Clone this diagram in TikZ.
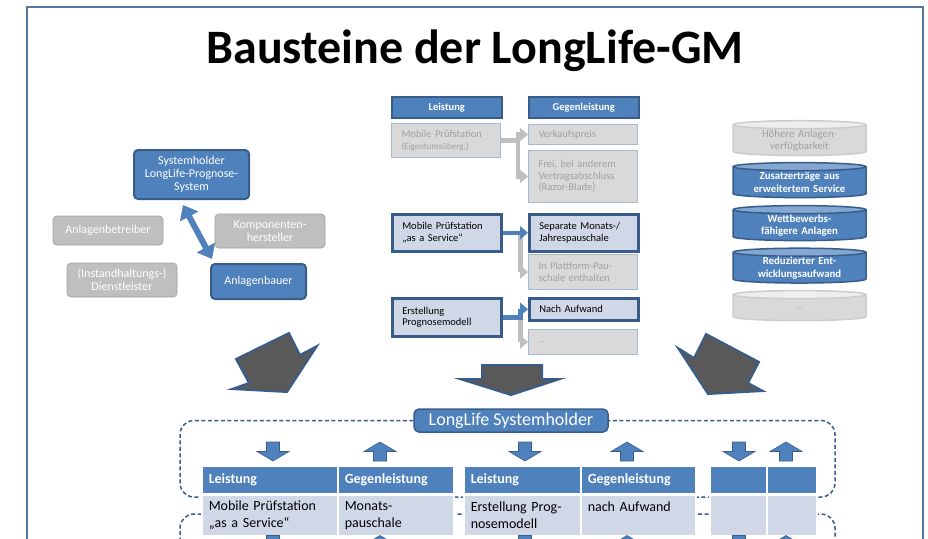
\documentclass[tikz,border=0pt]{standalone}
\usepackage{fontspec}
\setmainfont{Carlito}
\usetikzlibrary{shapes.geometric, positioning, arrows.meta}

\definecolor{llblue}{HTML}{4F81BD}
\definecolor{lldark}{HTML}{385D8A}
\definecolor{lllight}{HTML}{D0D8E8}
\definecolor{llgray}{HTML}{BFBFBF}
\definecolor{llpale}{HTML}{D9D9D9}
\definecolor{lltext}{HTML}{A0A0A0}
\definecolor{llrim}{HTML}{A7B9CF}
\definecolor{llarrow}{HTML}{595959}

\tikzset{
  downarr/.pic={\path[fill=llblue, draw=lldark, line width=0.6pt]
    (-6.5,-9.5) -- (6.5,-9.5) -- (6.5,0) -- (16,0) -- (0,9.5) -- (-16,0) -- (-6.5,0) -- cycle;},
  uparr/.pic={\path[fill=llblue, draw=lldark, line width=0.6pt]
    (-6.5,9.5) -- (6.5,9.5) -- (6.5,0) -- (16,0) -- (0,-9.5) -- (-16,0) -- (-6.5,0) -- cycle;}
}

\begin{document}
\begin{tikzpicture}[x=1pt, y=-1pt,
    role/.style={rounded corners=4pt, align=center, inner sep=2pt,
      font=\fontsize{12}{12.8}\selectfont},
    roleon/.style={role, fill=llblue, draw=lldark, line width=2pt, text=white},
    roleoff/.style={role, fill=llgray, draw=llgray!85!black, line width=0.8pt, text=white},
    colhead/.style={anchor=north west, fill=llblue, draw=lldark, line width=1.5pt,
      text=white, minimum width=110pt, minimum height=21pt, inner sep=0pt,
      font=\fontsize{10.5}{12}\selectfont\bfseries},
    pick/.style={anchor=north west, fill=lllight, draw=lldark, line width=2.5pt,
      align=left, text width=89pt, inner xsep=10pt, inner ysep=1pt,
      font=\fontsize{10.5}{11.5}\selectfont},
    nopick/.style={anchor=north west, fill=llpale, draw=llrim, line width=1pt,
      text=lltext, align=left, text width=89pt, inner xsep=10pt, inner ysep=1pt,
      font=\fontsize{10.5}{11.5}\selectfont},
    grayway/.style={draw=llgray, line width=4.5pt, -{Triangle[length=8pt, width=13pt]}},
    blueway/.style={draw=llblue, line width=4.5pt, -{Triangle[length=8pt, width=13pt]}},
    disk/.style={cylinder, shape border rotate=90, aspect=0.07, minimum width=133pt,
      text width=115pt, cylinder uses custom fill, align=center, line width=1.5pt,
      inner sep=0pt},
    diskon/.style={disk, draw=lldark, cylinder body fill=llblue,
      cylinder end fill=llblue!70!white, text=white,
      font=\fontsize{10.8}{12.6}\selectfont\bfseries},
    diskoff/.style={disk, draw=llgray!80, cylinder body fill=llpale,
      cylinder end fill=llpale!45!white, text=lltext,
      font=\fontsize{10.8}{12.6}\selectfont},
    bigarrow/.style={fill=llarrow, draw=lldark, line width=2pt, line join=miter},
    sysbar/.style={fill=llblue, draw=lldark, line width=1.5pt, rounded corners=5pt,
      text=white, minimum width=194pt, minimum height=23pt, inner sep=0pt,
      font=\fontsize{18}{20}\selectfont},
    dashframe/.style={draw=lldark, line width=1.5pt, dash pattern=on 4pt off 2.5pt,
      rounded corners=14pt},
    cellhead/.style={anchor=north west, fill=llblue, draw=white, line width=1.5pt,
      text=white, minimum height=28pt, inner xsep=7pt, inner ysep=0pt, align=left,
      font=\fontsize{14}{17}\selectfont\bfseries},
    cellbody/.style={anchor=north west, fill=lllight, draw=white, line width=1.5pt,
      minimum height=41pt, inner xsep=7pt, inner ysep=0pt, align=left,
      font=\fontsize{14}{17}\selectfont}]

  \fill[white] (0,0) rectangle (928,538);
  \useasboundingbox (0,0) rectangle (928,538);
  \draw[lldark!85, line width=2pt] (27,7) rectangle (923,570);

  \node[anchor=base, font=\fontsize{48}{56}\selectfont\bfseries] (title) at (475,63)
    {Bausteine der LongLife-GM};

  % Rollen
  \node[roleon, minimum width=115pt, minimum height=49pt] (sys) at (191.5,174.5)
    {Systemholder\\LongLife-Prognose-\\System};
  \node[roleoff, minimum width=110pt, minimum height=29pt] (betr) at (108,230.5)
    {Anlagenbetreiber};
  \node[roleoff, minimum width=110pt, minimum height=34pt] (komp) at (270,231)
    {Komponenten-\\hersteller};
  \node[roleoff, minimum width=110pt, minimum height=34pt] (dienst) at (122,280)
    {(Instandhaltungs-)\\Dienstleister};
  \node[roleon, minimum width=95pt, minimum height=35pt] (bauer) at (258.5,281.5)
    {Anlagenbauer};
  \draw[draw=llblue, line width=6pt,
    {Triangle[length=13pt, width=20pt]}-{Triangle[length=13pt, width=20pt]}]
    ([xshift=-8.5pt, yshift=-5pt]sys.south) -- ([xshift=-46.5pt, yshift=4pt]bauer.north);

  % Leistung / Gegenleistung
  \node[colhead] (leist) at (391,96) {Leistung};
  \node[colhead] (gegen) at (528,96) {Gegenleistung};
  \node[nopick, minimum height=34pt] (eigen) at (391,123)
    {Mobile Prüfstation\\{\fontsize{9}{11}\selectfont(Eigentumsüberg.)}};
  \node[nopick, minimum height=20pt] (verk) at (528,124) {Verkaufspreis};
  \node[nopick, minimum height=52pt] (frei) at (528,150)
    {Frei, bei anderem\\Vertragsabschluss\\(Razor-Blade)};
  \node[pick, minimum height=37pt] (svc) at (391,213)
    {Mobile Prüfstation\\„as a Service“};
  \node[pick, minimum height=37pt] (monat) at (528,213)
    {Separate Monats-/\\Jahrespauschale};
  \node[nopick, minimum height=35pt] (plattf) at (528,254)
    {In Plattform-Pau-\\schale enthalten};
  \node[pick, minimum height=38pt] (erst) at (391,297)
    {Erstellung\\Prognosemodell};
  \node[pick, minimum height=22pt] (aufw) at (528,297) {Nach Aufwand};
  \node[nopick, minimum height=25pt, text depth=-4pt] (rest) at (528,329)
    {\fontsize{8}{9}\selectfont …};

  \draw[grayway] (eigen.east) -- ++(17,0) |- (verk.west);
  \draw[grayway] (eigen.east) -- ++(17,0) |- (frei.west);
  \draw[grayway] (svc.east) -- ++(18,0) |- (plattf.west);
  \draw[blueway] (svc.east) -- (monat.west);
  \draw[grayway] (erst.east) -- ++(18,0) |- (rest.west);
  \draw[blueway] (erst.east) -- ++(18,0) |- (aufw.west);

  % Nutzen
  \node[diskoff, minimum height=33pt] (verfueg) at (799.5,140.5)
    {Höhere Anlagen-\\verfügbarkeit};
  \node[diskon, minimum height=35pt] (zusatz) at (799.5,182.5)
    {Zusatzerträge aus\\erweitertem Service};
  \node[diskon, minimum height=35pt] (wettb) at (799.5,225.5)
    {Wettbewerbs-\\fähigere Anlagen};
  \node[diskon, minimum height=34pt] (entw) at (799.5,268)
    {Reduzierter Ent-\\wicklungsaufwand};
  \node[diskoff, minimum height=30pt] (mehr) at (799.5,308)
    {\fontsize{8}{9}\selectfont …};

  % grosse Pfeile
  \draw[bigarrow] (236,359) -- (289,333) -- (300,355) -- (317,346) -- (287,392)
    -- (232,389) -- (249,383) -- cycle;
  \draw[bigarrow] (482,365) -- (542,365) -- (542,379) -- (560,379) -- (511,395)
    -- (460,379) -- (482,379) -- cycle;
  \draw[bigarrow] (706,334) -- (759,362) -- (748,383) -- (763,391) -- (708,394)
    -- (678,348) -- (694,358) -- cycle;

  % Systemholder-Ebene
  \node[sysbar] (sysh) at (511,420.5) {LongLife Systemholder};
  \draw[dashframe] (sysh.west) -| (180,497) -| (835,420.5) -- (sysh.east);
  \draw[dashframe] (180,600) |- (835,514) -- (835,600);

  \pic at (273,451.5) {downarr};
  \pic at (380,451.5) {uparr};
  \pic at (525,451.5) {downarr};
  \pic at (627,451.5) {uparr};
  \pic at (739,451.5) {downarr};
  \pic at (786,451.5) {uparr};

  \node[cellhead, text width=122pt] (t1l) at (201,465) {Leistung};
  \node[cellhead, text width=102pt] (t1g) at (337,465) {Gegenleistung};
  \node[cellbody, text width=122pt] (t1lb) at (201,494)
    {Mobile Prüfstation\\„as a Service“};
  \node[cellbody, text width=102pt] (t1gb) at (337,494) {Monats-\\pauschale};
  \node[cellhead, text width=103pt] (t2l) at (463,465) {Leistung};
  \node[cellhead, text width=101pt] (t2g) at (580,465) {Gegenleistung};
  \node[cellbody, text width=103pt] (t2lb) at (463,494)
    {Erstellung Prog-\\nosemodell};
  \node[cellbody, text width=101pt] (t2gb) at (580,494) {nach Aufwand\\\mbox{}};
  \node[cellhead, text width=43pt] (t3l) at (709,465) {};
  \node[cellhead, text width=36pt] (t3g) at (766,465) {};
  \node[cellbody, text width=43pt] (t3lb) at (709,494) {};
  \node[cellbody, text width=36pt] (t3gb) at (766,494) {};

  \pic at (273,545) {downarr};
  \pic at (380,545) {uparr};
  \pic at (525,545) {downarr};
  \pic at (627,545) {uparr};
  \pic at (739,545) {downarr};
  \pic at (786,545) {uparr};
\end{tikzpicture}
\end{document}
